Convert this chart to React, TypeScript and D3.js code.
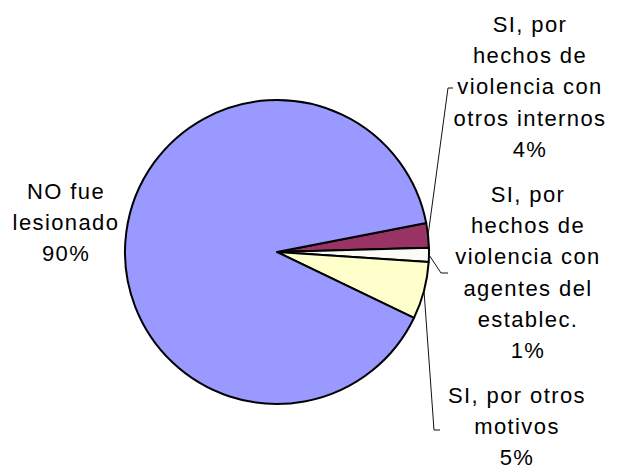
import React from 'react'
import * as d3 from 'd3'

// slice order clockwise starting just above 3 o'clock
const categories = [
  'SI, por hechos de violencia con otros internos',
  'SI, por hechos de violencia con agentes del establec.',
  'SI, por otros motivos',
  'NO fue lesionado',
]
const shares = [2.6, 1.5, 6.1, 89.8]
const percentLabels = ['4%', '1%', '5%', '90%']
const labelLines = [
  ['SI, por', 'hechos de', 'violencia con', 'otros internos'],
  ['SI, por', 'hechos de', 'violencia con', 'agentes del', 'establec.'],
  ['SI, por otros', 'motivos'],
  ['NO fue', 'lesionado'],
]
const colors = ['#993366', '#FBFBF6', '#FFFFCC', '#9999FF']

const W = 618
const H = 474
const cx = 277
const cy = 252
const radius = 152
const deg = Math.PI / 180

// text block placement: center x, first baseline
const labelPos = [
  { x: 530, y: 32 },
  { x: 528, y: 202 },
  { x: 517, y: 403 },
  { x: 66, y: 199 },
]
const lineH = 31.2

// leader line bends (elbow, end) for the right-hand labels
const leaders = [
  { elbow: [448, 88], end: [453, 88] },
  { elbow: [441, 273], end: [448, 273] },
  { elbow: [434, 430], end: [440, 430] },
]

function App() {
  const pie = d3
    .pie<number>()
    .sort(null)
    .value((d) => d)
    .startAngle(79 * deg)
    .endAngle(79 * deg + 2 * Math.PI)
  const arcs = pie(shares)
  const arc = d3.arc<d3.PieArcDatum<number>>().innerRadius(0).outerRadius(radius)
  const edge = d3.arc<d3.PieArcDatum<number>>().innerRadius(radius).outerRadius(radius)

  return (
    <svg
      width={W}
      height={H}
      style={{ position: 'absolute', left: 0, top: 0, background: '#fff' }}
      fontFamily="'Liberation Sans', Arial, sans-serif"
    >
      <g transform={`translate(${cx},${cy})`}>
        {arcs.map((a, i) => (
          <path key={i} d={arc(a) || ''} fill={colors[i]} stroke="#000" strokeWidth={2} strokeLinejoin="round">
            <title>{categories[i]}</title>
          </path>
        ))}
      </g>
      {leaders.map((l, i) => {
        const [ex, ey] = edge.centroid(arcs[i])
        const pts: [number, number][] = [[cx + ex, cy + ey], l.elbow as [number, number], l.end as [number, number]]
        return <path key={i} d={d3.line()(pts) || ''} fill="none" stroke="#111" strokeWidth={1} />
      })}
      {labelLines.map((lines, i) => (
        <text key={i} textAnchor="middle" fontSize={22} letterSpacing={1.4} fill="#000">
          {[...lines, percentLabels[i]].map((t, j) => (
            <tspan key={j} x={labelPos[i].x} y={labelPos[i].y + j * lineH}>
              {t}
            </tspan>
          ))}
        </text>
      ))}
    </svg>
  )
}

export default App
